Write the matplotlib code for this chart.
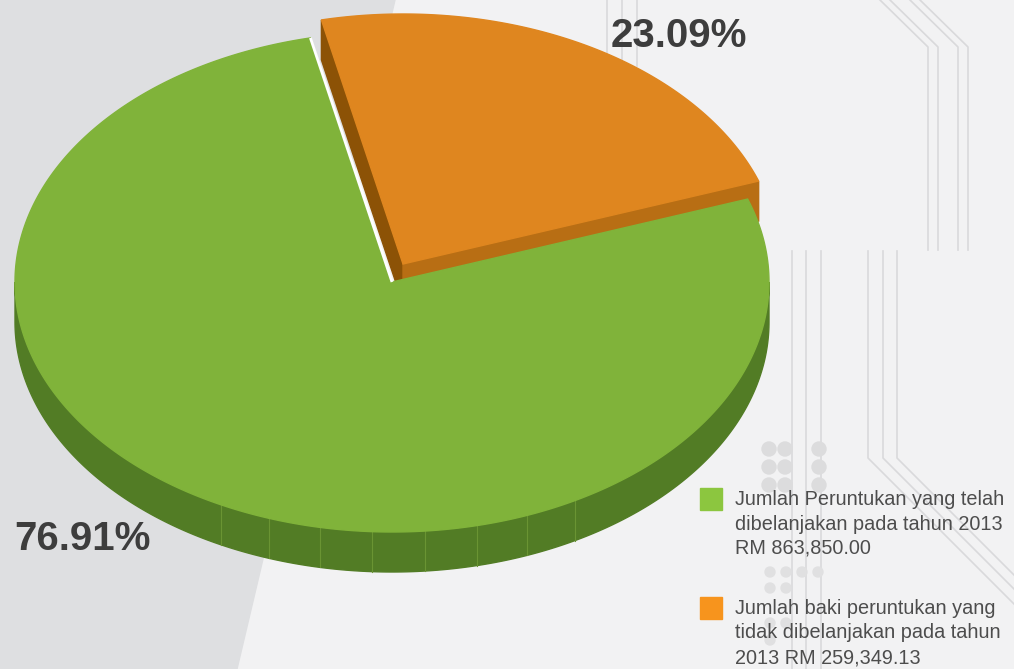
import numpy as np
import matplotlib.pyplot as plt
from matplotlib.patches import Polygon, Circle

plt.rcParams['font.family'] = ['Liberation Sans', 'DejaVu Sans']

# data
kategori = ['Jumlah Peruntukan yang telah\ndibelanjakan pada tahun 2013\nRM 863,850.00',
            'Jumlah baki peruntukan yang\ntidak dibelanjakan pada tahun\n2013 RM 259,349.13']
peratus = [76.91, 23.09]
label_peratus = ['76.91%', '23.09%']

warna_atas = ['#80b33a', '#df861f']
warna_legend = ['#8cc63f', '#f7941d']

# geometri pai (piksel, y ke bawah)
cx, cy = 392, 282
rx, ry = 377, 250
tebal = 40
sudut0 = 102.5          # sempadan atas, potongan berjalan ikut jam
off_x, off_y = 11, -18  # anjakan potongan oren

def titik(t, dx=0, dy=0, z=0):
    t = np.radians(t)
    return np.column_stack([cx + dx + rx*np.cos(t), cy + dy - ry*np.sin(t) + z])

fig = plt.figure(figsize=(10.14, 6.69), dpi=100)
ax = fig.add_axes([0, 0, 1, 1])
ax.set_xlim(0, 1014)
ax.set_ylim(669, 0)
ax.axis('off')

# latar
ax.add_patch(Polygon([[0, 0], [1014, 0], [1014, 669], [0, 669]], closed=True, color='#f2f2f3', zorder=0))
ax.add_patch(Polygon([[0, 0], [395, 0], [237, 669], [0, 669]], closed=True, color='#dedfe1', zorder=0))

garis = '#d9d9db'
for x in [607, 622, 637]:
    ax.plot([x, x], [0, 66], color=garis, lw=1.2, zorder=1)
for x0, x1 in [(880, 928), (890, 938), (910, 958), (920, 968)]:
    ax.plot([x0, x1, x1], [0, 47, 250], color=garis, lw=1.2, zorder=1)
for x in [792, 806, 821]:
    ax.plot([x, x], [251, 669], color=garis, lw=1.2, zorder=1)
for x in [868, 883, 897]:
    ax.plot([x, x, x + 211], [251, 458, 669], color=garis, lw=1.2, zorder=1)

titik_besar = [(769, 449), (785, 449), (819, 449), (769, 467), (785, 467), (819, 467),
               (769, 485), (785, 485), (819, 485)]
for (x, y) in titik_besar:
    ax.add_patch(Circle((x, y), 7, color='#dcdcdd', zorder=1))
titik_kecil = [(770, 572), (786, 572), (802, 572), (818, 572), (770, 588), (786, 588),
               (770, 623), (786, 623), (770, 640)]
for (x, y) in titik_kecil:
    ax.add_patch(Circle((x, y), 5, color='#e0e0e1', zorder=1))

# sudut potongan
sapuan = [p / 100 * 360 for p in peratus]
oren_hujung = sudut0 - sapuan[1]
hijau_mula = sudut0 - 360

# muka sisi potongan oren
apex_a = np.array([cx + off_x, cy + off_y])
apex_b = apex_a + [0, tebal]
for t, c in [(sudut0, '#8c5206'), (oren_hujung, '#b86e14')]:
    e = titik(t, off_x, off_y)[0]
    ax.add_patch(Polygon([apex_a, e, e + [0, tebal], apex_b], closed=True, color=c, zorder=2))

# muka atas oren
t = np.linspace(oren_hujung, sudut0, 200)
ax.add_patch(Polygon(np.vstack([apex_a, titik(t, off_x, off_y)]), closed=True,
                     color=warna_atas[1], zorder=3))

# dinding hijau
t = np.linspace(-180, 0, 300)
atas = titik(t)
bawah = titik(t, z=tebal)
ax.add_patch(Polygon(np.vstack([atas, bawah[::-1]]), closed=True, color='#527c25', zorder=4))
for ts in np.arange(243, 300, 8):
    p = titik(ts - 360)[0]
    ax.plot([p[0], p[0]], [p[1], p[1] + tebal], color='#6a9433', lw=0.8, zorder=4)

# muka atas hijau
t = np.linspace(hijau_mula, oren_hujung, 400)
ax.add_patch(Polygon(np.vstack([[cx, cy], titik(t)]), closed=True, color=warna_atas[0], zorder=5))
e = titik(sudut0)[0]
ax.plot([cx, e[0]], [cy, e[1]], color='white', lw=2, zorder=6, solid_capstyle='butt')

# label peratus
ax.text(14, 550, label_peratus[0], fontsize=29, fontweight='bold', color='#3d3d3d',
        ha='left', va='baseline', zorder=7)
ax.text(611, 47, label_peratus[1], fontsize=29, fontweight='bold', color='#3d3d3d',
        ha='left', va='baseline', zorder=7)

# legenda
legend_y = [488, 597]
for i in range(len(kategori)):
    y0 = legend_y[i]
    ax.add_patch(Polygon([[700, y0], [722, y0], [722, y0 + 22], [700, y0 + 22]], closed=True,
                         color=warna_legend[i], zorder=7))
    for j, baris in enumerate(kategori[i].split('\n')):
        ax.text(735, y0 + 17 + j * 24.5, baris, fontsize=14.3, color='#4d4d4d',
                ha='left', va='baseline', zorder=7)

fig.savefig('out.png', dpi=100)
